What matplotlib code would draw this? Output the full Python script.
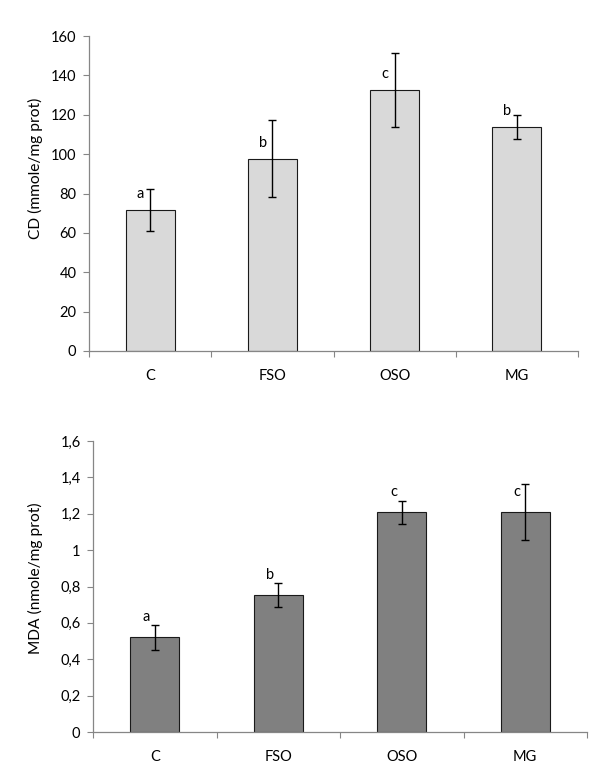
import matplotlib
matplotlib.use("Agg")
import matplotlib.pyplot as plt
from matplotlib.ticker import FixedLocator

# ---- data ----
categories = ["C", "FSO", "OSO", "MG"]

cd_values = [71.6, 97.7, 132.6, 113.8]
cd_errors = [10.5, 19.6, 18.6, 6.3]
cd_letters = ["a", "b", "c", "b"]
cd_ticks = [0, 20, 40, 60, 80, 100, 120, 140, 160]
cd_tick_labels = ["0", "20", "40", "60", "80", "100", "120", "140", "160"]

mda_values = [0.52, 0.752, 1.207, 1.209]
mda_errors = [0.069, 0.066, 0.065, 0.154]
mda_letters = ["a", "b", "c", "c"]
mda_ticks = [0, 0.2, 0.4, 0.6, 0.8, 1.0, 1.2, 1.4, 1.6]
mda_tick_labels = ["0", "0,2", "0,4", "0,6", "0,8", "1", "1,2", "1,4", "1,6"]

plt.rcParams['font.family'] = ['Lato', 'DejaVu Sans']

W, H = 600, 779
fig = plt.figure(figsize=(W / 100, H / 100), dpi=100)

axis_gray = "#868686"
FS = 10.5


def panel(rect, values, errors, letters, ticks, tick_labels, ylabel, color,
          letter_offset, ylabel_x, ylabel_y):
    ax = fig.add_axes(rect)
    x = list(range(len(categories)))
    ax.bar(x, values, width=0.4, color=color, edgecolor="#1a1a1a",
           linewidth=0.8, zorder=2)
    ax.errorbar(x, values, yerr=errors, fmt="none", ecolor="black",
                elinewidth=1.0, capsize=2.6, capthick=1.0, zorder=3)
    for xi, v, l in zip(x, values, letters):
        ax.annotate(l, xy=(xi, v), xytext=letter_offset,
                    textcoords="offset points", ha="center", va="center",
                    fontsize=FS, color="black")
    ax.set_xlim(-0.5, len(categories) - 0.5)
    ax.set_ylim(ticks[0], ticks[-1])
    ax.set_yticks(ticks)
    ax.set_yticklabels(tick_labels)
    ax.set_xticks(x)
    ax.set_xticklabels(categories)
    ax.xaxis.set_minor_locator(FixedLocator([i - 0.5 for i in range(len(categories) + 1)]))
    ax.tick_params(axis="x", which="major", length=0, pad=13, labelsize=FS)
    ax.tick_params(axis="x", which="minor", length=4, width=0.8, color=axis_gray,
                   direction="out")
    ax.tick_params(axis="y", which="major", length=4, width=0.8, color=axis_gray,
                   direction="out", pad=5, labelsize=FS)
    for s in ("top", "right"):
        ax.spines[s].set_visible(False)
    for s in ("left", "bottom"):
        ax.spines[s].set_color(axis_gray)
        ax.spines[s].set_linewidth(0.9)
    ax.set_ylabel(ylabel, fontsize=11.2)
    ax.yaxis.set_label_coords(ylabel_x, ylabel_y)
    return ax


# top panel: CD
top_rect = [89 / W, 1 - 351 / H, (578 - 89) / W, (351 - 36) / H]
panel(top_rect, cd_values, cd_errors, cd_letters, cd_ticks, cd_tick_labels,
      "CD (mmole/mg prot)", "#d9d9d9", (-7, 11.5), -0.095, 0.58)

# bottom panel: MDA
bot_rect = [93 / W, 1 - 732 / H, (587 - 93) / W, (732 - 441) / H]
panel(bot_rect, mda_values, mda_errors, mda_letters, mda_ticks, mda_tick_labels,
      "MDA (nmole/mg prot)", "#808080", (-6, 14.5), -0.101, 0.53)

fig.savefig("out.png", dpi=100)
